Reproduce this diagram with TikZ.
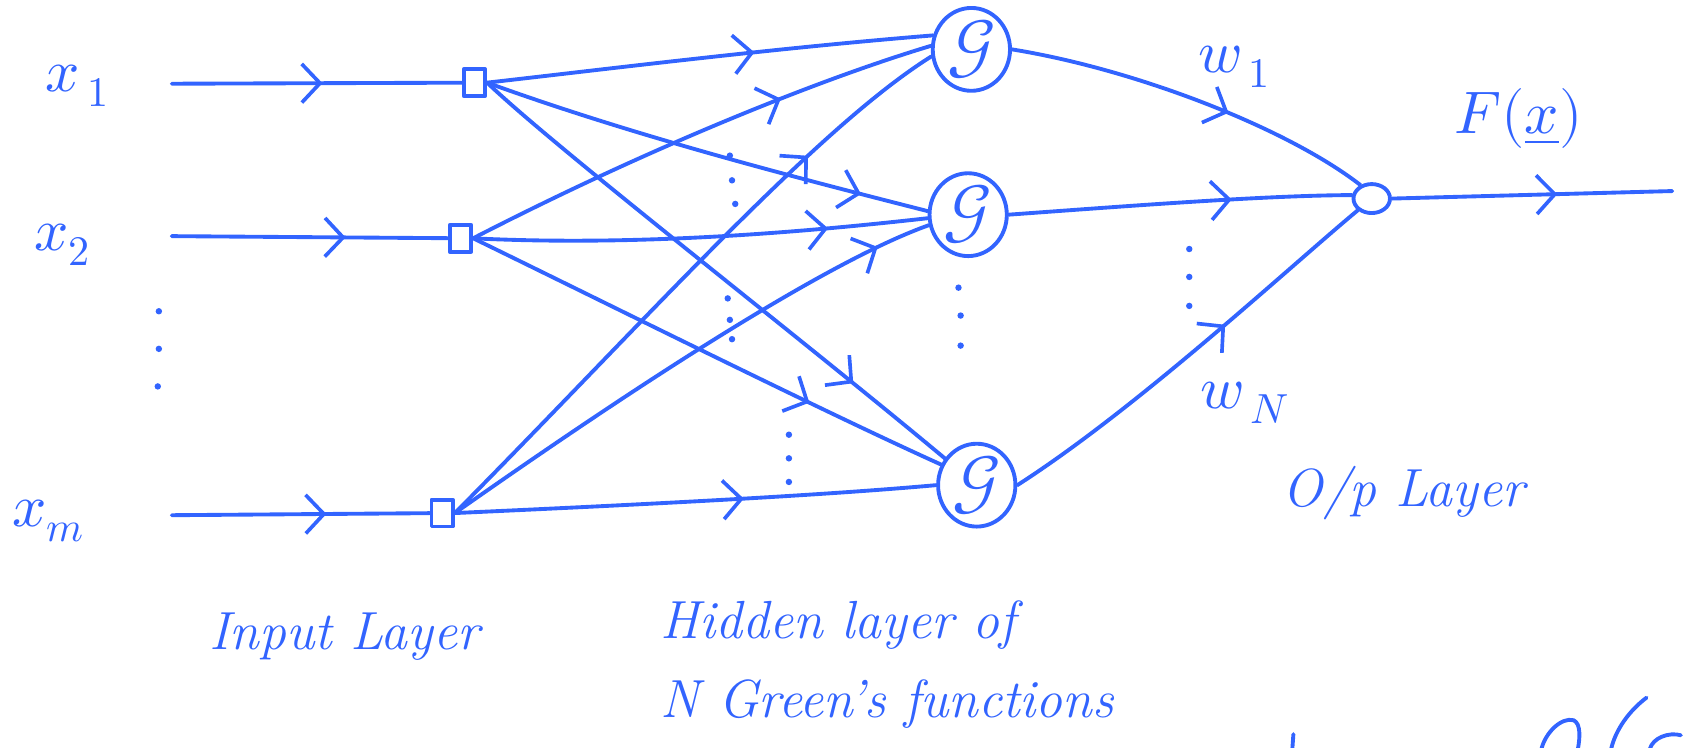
\documentclass[tikz,border=0pt]{standalone}
\usepackage{unicode-math}
\usetikzlibrary{arrows.meta,decorations.markings,shapes.geometric}
\definecolor{ink}{RGB}{50,100,255}
\tikzset{
  pen/.style={draw=ink, line width=3.6pt, line cap=round, line join=round},
  mid arrow/.style={postaction={decorate,decoration={markings,
      mark=at position #1 with {\arrow[ink,line width=3.4pt]{Straight Barb[length=17pt,width=36pt]}}}}},
  inbox/.style={pen, rectangle, minimum width=20pt, minimum height=25pt, inner sep=0pt},
  gnode/.style={pen, ellipse, minimum width=72pt, minimum height=76pt, inner sep=0pt,
      text=ink, font=\fontsize{66}{70}\selectfont},
  sumnode/.style={pen, ellipse, minimum width=34pt, minimum height=27pt, inner sep=0pt},
  lbl/.style={text=ink, inner sep=0pt, font=\fontsize{56}{60}\selectfont},
  note/.style={text=ink, inner sep=0pt, font=\fontsize{50}{73}\selectfont\itshape},
  dotp/.style={fill=ink, circle, inner sep=0pt, minimum size=6pt},
}
\begin{document}
\begin{tikzpicture}[x=1pt,y=-1pt]
\useasboundingbox (0,0) rectangle (1568,696);

% input layer
\node[inbox] (b1) at (442,77) {};
\node[inbox] (b2) at (429,222) {};
\node[inbox] (bm) at (412,478) {};
\coordinate (s1) at (160,78);
\coordinate (s2) at (160,220);
\coordinate (sm) at (160,480);

\node[lbl] (lx1) at (72,80) {$x_{\,1}$};
\node[lbl] (lx2) at (58,228) {$x_{2}$};
\node[lbl] (lxm) at (45,485) {$x_{m}$};

\draw[pen, mid arrow=0.52] (s1) -- (b1);
\draw[pen, mid arrow=0.63] (s2) -- (b2);
\draw[pen, mid arrow=0.6] (sm) -- (bm);

\node[dotp] (d1) at (148,290) {};
\node[dotp] (d2) at (148,325) {};
\node[dotp] (d3) at (147,360) {};

% hidden layer of Green's functions
\node[gnode] (g1) at (905,46) {$\mathcal{G}$};
\node[gnode] (g2) at (902,200) {$\mathcal{G}$};
\node[gnode] (g3) at (910,452) {$\mathcal{G}$};

\draw[pen, mid arrow=0.6] (b1.east) .. controls (560,65) and (720,45) .. (g1.160);
\draw[pen, mid arrow=0.85] (b1.east) .. controls (600,130) and (760,170) .. (g2.175);
\draw[pen, mid arrow=0.8] (b1.east) .. controls (520,140) and (740,310) .. (g3.140);
\draw[pen, mid arrow=0.68] (b2.east) .. controls (600,140) and (760,75) .. (g1.175);
\draw[pen, mid arrow=0.78] (b2.east) .. controls (600,230) and (760,215) .. (g2.185);
\draw[pen, mid arrow=0.72] (b2.east) .. controls (560,280) and (760,380) .. (g3.150);
\draw[pen, mid arrow=0.76] (bm.east) .. controls (600,300) and (760,120) .. (g1.190);
\draw[pen, mid arrow=0.9] (bm.east) .. controls (620,340) and (780,240) .. (g2.195);
\draw[pen, mid arrow=0.6] (bm.east) .. controls (600,470) and (760,462) .. (g3.180);

\foreach \n/\x/\y in {h1/680/145, h2/682/168, h3/685/190,
                      h4/678/278, h5/680/298, h6/682/316,
                      h7/735/405, h8/735/427, h9/735/449,
                      h10/893/268, h11/895/294, h12/895/322,
                      h13/1108/232, h14/1108/258, h15/1108/285}
  \node[dotp] (\n) at (\x,\y) {};

% output layer
\node[sumnode] (out) at (1278,185) {};
\coordinate (fx) at (1558,178);

\draw[pen, mid arrow=0.6] (g1.east) .. controls (1060,65) and (1200,120) .. (out.130);
\draw[pen, mid arrow=0.65] (g2.east) .. controls (1050,192) and (1180,182) .. (out.170);
\draw[pen, mid arrow=0.6] (g3.east) .. controls (1060,380) and (1200,250) .. (out.220);
\draw[pen, mid arrow=0.59] (out.east) -- (fx);

\node[lbl] (lw1) at (1150,62) {$w_{\,1}$};
\node[lbl] (lwn) at (1160,375) {$w_{\,N}$};
\node[lbl] (lfx) at (1415,110) {$F(\underline{x})$};

% captions
\node[note, anchor=base west] (inl) at (195,605) {Input Layer};
\node[note, anchor=base west, align=left] (hid) at (615,668) {Hidden layer of\\N Green's functions};
\node[note, anchor=base west] (opl) at (1195,472) {O/p Layer};

% strokes running off the lower edge
\draw[pen] (1205,684) -- (1204,698);
\draw[pen] (1436,698) .. controls (1440,682) and (1455,668) .. (1466,671) .. controls (1473,674) and (1472,688) .. (1470,698);
\draw[pen] (1534,650) .. controls (1518,662) and (1505,680) .. (1501,698);
\draw[pen] (1537,698) .. controls (1540,687) and (1555,682) .. (1566,685);
\end{tikzpicture}
\end{document}
